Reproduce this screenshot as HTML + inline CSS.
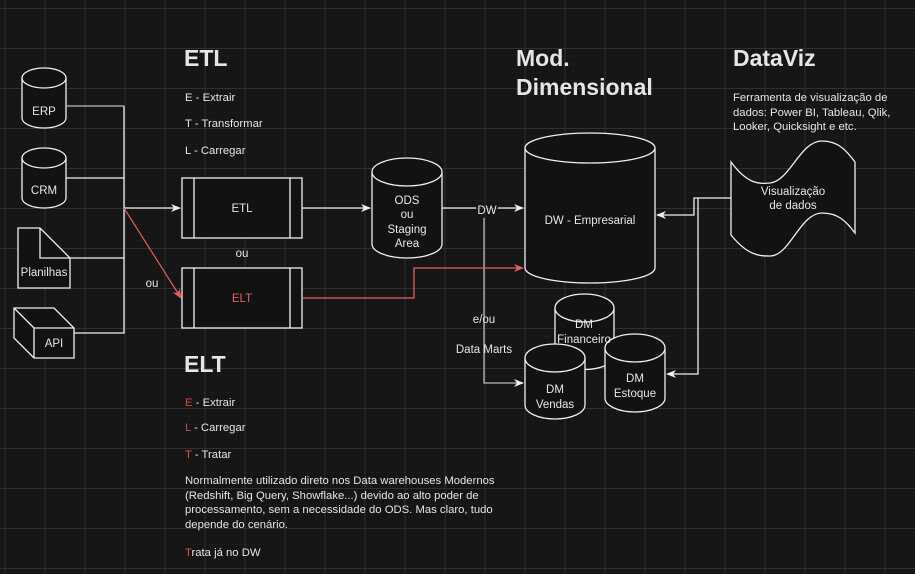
<!DOCTYPE html>
<html><head><meta charset="utf-8"><style>
html,body{margin:0;padding:0;background:#151515;}
svg{display:block;}
text{font-family:"Liberation Sans",sans-serif;fill:#e6e6e6;}
</style></head><body>
<svg width="915" height="574" viewBox="0 0 915 574" xmlns="http://www.w3.org/2000/svg">
<defs>
<pattern id="minor" width="8" height="8" patternUnits="userSpaceOnUse" x="4.5" y="0">
<path d="M0 0V8M0 0H8" stroke="#1d1d1d" stroke-width="1" fill="none"/>
</pattern>
<pattern id="major" width="40" height="40" patternUnits="userSpaceOnUse" x="4.5" y="8">
<path d="M0.5 0V40M0 0.5H40" stroke="#303030" stroke-width="1" fill="none"/>
</pattern>
<marker id="aw" markerWidth="10" markerHeight="10" refX="9" refY="5" orient="auto" markerUnits="userSpaceOnUse"><path d="M0,1 L10,5 L0,9 L3,5Z" fill="#f0f0f0"/></marker>
<marker id="ar" markerWidth="10" markerHeight="10" refX="9" refY="5" orient="auto" markerUnits="userSpaceOnUse"><path d="M0,1 L10,5 L0,9 L3,5Z" fill="#e06060"/></marker>
</defs>
<rect width="915" height="574" fill="#151515"/>
<rect width="915" height="574" fill="url(#minor)"/>
<rect width="915" height="574" fill="url(#major)"/>

<g stroke="#f0f0f0" stroke-width="1.3" fill="#121212">
<path d="M22,78 V118 A22,10 0 0 0 66,118 V78"/>
<ellipse cx="44" cy="78" rx="22" ry="10"/>
<path d="M22,158 V198 A22,10 0 0 0 66,198 V158"/>
<ellipse cx="44" cy="158" rx="22" ry="10"/>
<path d="M18,228 H40 L70,258 V288 H18 Z"/>
<path d="M40,228 V258 H70" fill="none"/>
<path d="M14,308 H54 L74,328 V358 H34 L14,338 Z"/>
<path d="M14,308 L34,328 H74 M34,328 V358" fill="none"/>
<rect x="182" y="178" width="120" height="60"/>
<path d="M194,178V238M290,178V238" fill="none"/>
<rect x="182" y="268" width="120" height="60"/>
<path d="M194,268V328M290,268V328" fill="none"/>
<path d="M372,172 V244 A35,14 0 0 0 442,244 V172"/>
<ellipse cx="407" cy="172" rx="35" ry="14"/>
<path d="M525,148 V268 A65,15 0 0 0 655,268 V148"/>
<ellipse cx="590" cy="148" rx="65" ry="15"/>
<path d="M555,308 V358 A30,14 0 0 0 614,358 V308"/>
<ellipse cx="584.5" cy="308" rx="29.5" ry="14"/>
<path d="M525,358 V405 A30,14 0 0 0 585,405 V358"/>
<ellipse cx="555" cy="358" rx="30" ry="14"/>
<path d="M605,348 V398 A30,14 0 0 0 665,398 V348"/>
<ellipse cx="635" cy="348" rx="30" ry="14"/>
<path d="M731,162 C748,185 760,184 770,183 C790,181 800,141 822,141 C838,141 846,150 855,162 V233 C846,221 838,213 822,213 C800,213 790,256 770,256 C760,256 748,256 731,235 Z"/>
</g>

<g stroke="#f0f0f0" stroke-width="1.3" fill="none">
<path d="M67,106 H124" stroke="#bbb"/>
<path d="M124,106 V333 H74 M66,178 H124 M70,258 H124"/>
<path d="M124,208 H180" marker-end="url(#aw)"/>
<path d="M302,208 H370" marker-end="url(#aw)"/>
<path d="M442,208 H476 M498,208 H523" marker-end="url(#aw)"/>
<path d="M484,218 V383 H523" stroke="#bbb" marker-end="url(#aw)"/>
<path d="M731,198 H694 V215 H657" marker-end="url(#aw)"/>
<path d="M698,198 V374 H667" marker-end="url(#aw)"/>
</g>
<path d="M124,208 L181,298" stroke="#e06060" stroke-width="1.2" fill="none" marker-end="url(#ar)"/>
<path d="M302,298 H414 V268 H523" stroke="#e06060" stroke-width="1.3" fill="none" marker-end="url(#ar)"/>

<g font-size="11.5" text-anchor="middle">
<text x="44" y="115">ERP</text>
<text x="44" y="194">CRM</text>
<text x="44" y="276">Planilhas</text>
<text x="54" y="347">API</text>
<text x="242" y="212">ETL</text>
<text x="242" y="302" style="fill:#e06060">ELT</text>
<text x="242" y="257">ou</text>
<text x="152" y="287">ou</text>
<text x="407" y="204">ODS</text>
<text x="407" y="218">ou</text>
<text x="407" y="233">Staging</text>
<text x="407" y="247">Area</text>
<text x="487" y="214">DW</text>
<text x="484" y="323">e/ou</text>
<text x="484" y="353">Data Marts</text>
<text x="590" y="224">DW - Empresarial</text>
<text x="584" y="328">DM</text>
<text x="584" y="343">Financeiro</text>
<text x="555" y="393">DM</text>
<text x="555" y="408">Vendas</text>
<text x="635" y="382">DM</text>
<text x="635" y="397">Estoque</text>
<text x="793" y="195">Visualização</text>
<text x="793" y="209">de dados</text>
</g>

<g font-size="23" font-weight="bold">
<text x="184" y="66">ETL</text>
<text x="184" y="372">ELT</text>
<text x="516" y="66">Mod.</text>
<text x="516" y="95">Dimensional</text>
<text x="733" y="66">DataViz</text>
</g>
<g font-size="11.3">
<text x="185" y="101">E - Extrair</text>
<text x="185" y="127">T - Transformar</text>
<text x="185" y="154">L - Carregar</text>
<text x="185" y="406"><tspan style="fill:#c05050">E</tspan> - Extrair</text>
<text x="185" y="431"><tspan style="fill:#c05050">L</tspan> - Carregar</text>
<text x="185" y="458"><tspan style="fill:#e05050">T</tspan> - Tratar</text>
<text x="185" y="484">Normalmente utilizado direto nos Data warehouses Modernos</text>
<text x="185" y="499">(Redshift, Big Query, Showflake...) devido ao alto poder de</text>
<text x="185" y="513">processamento, sem a necessidade do ODS. Mas claro, tudo</text>
<text x="185" y="528">depende do cenário.</text>
<text x="185" y="556"><tspan style="fill:#e05050">T</tspan>rata já no DW</text>
<text x="733" y="101">Ferramenta de visualização de</text>
<text x="733" y="116">dados: Power BI, Tableau, Qlik,</text>
<text x="733" y="130">Looker, Quicksight e etc.</text>
</g>
</svg>
</body></html>
